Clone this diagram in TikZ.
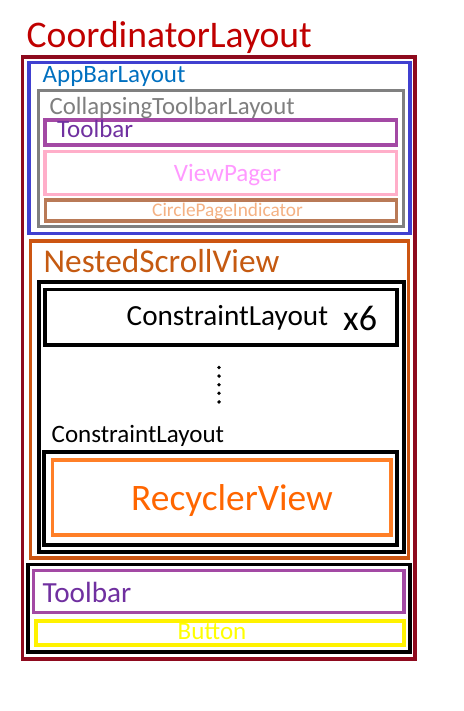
\documentclass[tikz,border=0pt]{standalone}
\usepackage{fontspec}
\setmainfont{Carlito}
\definecolor{coordbox}{HTML}{8E0A1E}
\definecolor{coordtxt}{HTML}{C00000}
\definecolor{appbox}{HTML}{4040D0}
\definecolor{apptxt}{HTML}{0070C0}
\definecolor{colbox}{HTML}{808080}
\definecolor{coltxt}{HTML}{7F7F7F}
\definecolor{tbbox}{HTML}{A349A4}
\definecolor{tbtxt}{HTML}{7030A0}
\definecolor{vpbox}{HTML}{FFAEC9}
\definecolor{vptxt}{HTML}{FF99FF}
\definecolor{cpibox}{HTML}{B97A57}
\definecolor{cpitxt}{HTML}{F4B183}
\definecolor{nsvbox}{HTML}{CC5511}
\definecolor{nsvtxt}{HTML}{C55A11}
\definecolor{rvbox}{HTML}{FF7F27}
\definecolor{rvtxt}{HTML}{FF6600}
\definecolor{btnbox}{HTML}{FFF200}
\definecolor{btntxt}{HTML}{FFFF00}
\tikzset{
  frame/.style={draw=#1, line width=3.4pt, fill=none},
  lbl/.style={inner sep=0pt, anchor=base west},
  clbl/.style={inner sep=0pt, anchor=base},
}
\newcommand{\fs}[1]{\fontsize{#1}{#1}\selectfont}
\begin{document}
\begin{tikzpicture}[x=1pt,y=-1pt]
  \useasboundingbox (0,0) rectangle (463,711);
  \fill[white] (0,0) rectangle (463,711);

  % CoordinatorLayout
  \node[lbl, text=coordtxt, font=\fs{37.6}] (coordLabel) at (26.5,48) {CoordinatorLayout};
  \draw[frame=coordbox, line width=3.8pt] (22.5,56.7) rectangle (414.7,659);

  % AppBarLayout with its collapsing toolbar
  \draw[frame=appbox] (28.8,62.5) rectangle (410,233.3);
  \node[lbl, text=apptxt, font=\fs{25}] (appLabel) at (42.5,83) {AppBarLayout};
  \draw[frame=colbox] (38.3,90.7) rectangle (403.3,226.7);
  \node[lbl, text=coltxt, font=\fs{24.8}] (colLabel) at (49.5,115) {CollapsingToolbarLayout};
  \draw[frame=tbbox] (45,120) rectangle (396.3,145);
  \node[lbl, text=tbtxt, font=\fs{25}] (tbTopLabel) at (57,138) {Toolbar};
  \draw[frame=vpbox] (45,151.7) rectangle (396.3,194.3);
  \node[clbl, text=vptxt, font=\fs{25}] (vpLabel) at (227.5,182) {ViewPager};
  \draw[frame=cpibox] (45.7,200) rectangle (396.3,221);
  \node[clbl, text=cpitxt, font=\fs{19.3}] (cpiLabel) at (227.5,217) {CirclePageIndicator};

  % NestedScrollView and its content
  \draw[frame=nsvbox] (30.5,241) rectangle (408.3,557.8);
  \node[lbl, text=nsvtxt, font=\fs{33.3}] (nsvLabel) at (43.5,272) {NestedScrollView};
  \draw[frame=black, line width=3.9pt] (39,282) rectangle (403.7,552.3);
  \draw[frame=black, line width=3.9pt] (44.7,289.5) rectangle (397,344.7);
  \node[lbl, font=\fs{29.2}] (clTopLabel) at (126.5,325) {ConstraintLayout};
  \node[lbl, font=\fs{36}] (timesLabel) at (343,330) {x6};
  \foreach \i in {0,...,4}
    \fill (219,367.5+8.6*\i) circle (1.9);
  \node[lbl, font=\fs{25}] (clBotLabel) at (51.5,442) {ConstraintLayout};
  \draw[frame=black, line width=3.9pt] (44,451.7) rectangle (396.7,545);
  \draw[frame=rvbox, line width=3.7pt] (52.5,460) rectangle (391.3,535);
  \node[clbl, text=rvtxt, font=\fs{37.4}] (rvLabel) at (232,510) {RecyclerView};

  % Bottom bar
  \draw[frame=black, line width=3.7pt] (28,564.5) rectangle (410,651.7);
  \draw[frame=tbbox] (33.5,570.5) rectangle (404,612.5);
  \node[lbl, text=tbtxt, font=\fs{29.2}] (tbBotLabel) at (42.5,602) {Toolbar};
  \draw[frame=btnbox, line width=3.7pt] (36.3,621) rectangle (403.7,645.3);
  \node[clbl, text=btntxt, font=\fs{25}] (btnLabel) at (212,639) {Button};
\end{tikzpicture}
\end{document}
